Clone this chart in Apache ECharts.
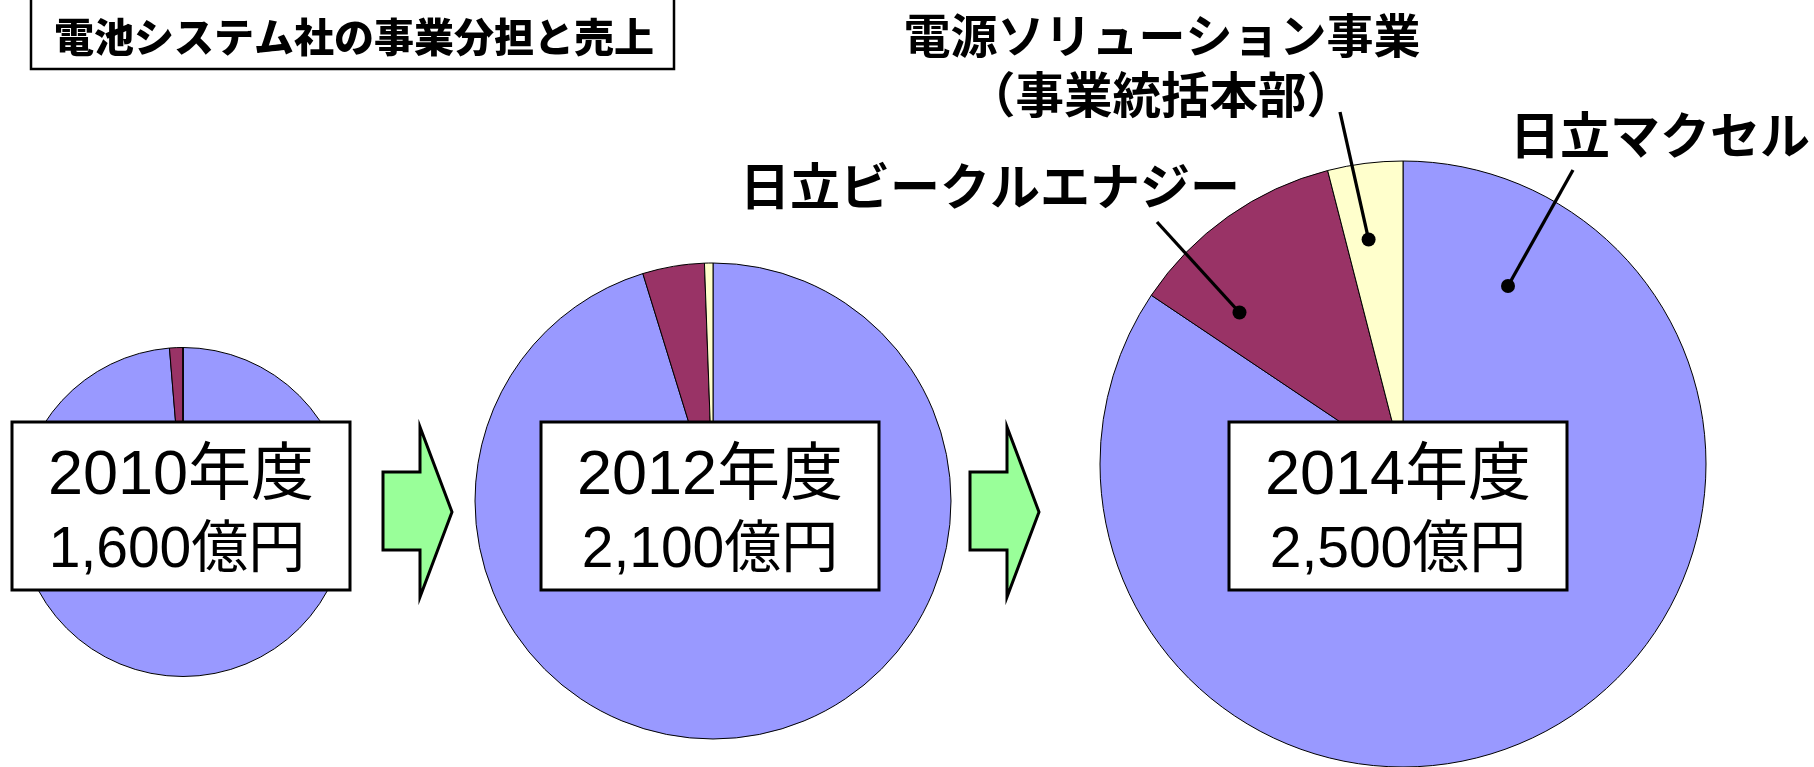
<!DOCTYPE html>
<html>
<head>
<meta charset="utf-8">
<script src="https://cdn.jsdelivr.net/npm/echarts@6/dist/echarts.min.js"></script>
<style>
html,body{margin:0;padding:0;background:#fff;}
#chart{width:1814px;height:767px;}
</style>
</head>
<body>
<div id="chart"></div>
<script>
// ---- data ----
const chartTitle = '電池システム社の事業分担と売上';
const years = ['2010年度', '2012年度', '2014年度'];
const totals = ['1,600億円', '2,100億円', '2,500億円'];
const segments = ['日立マクセル', '日立ビークルエナジー', '電源ソリューション事業（事業統括本部）'];
const maxellSales = [1579, 2000, 2110];
const vehicleSales = [21, 88, 290];
const powerSales = [0, 12, 100];
const segmentLabels = ['日立マクセル', '日立ビークルエナジー', '電源ソリューション事業', '（事業統括本部）'];

// ---- layout ----
const colors = ['#9999FF', '#993366', '#FFFFCC'];
const pieCenters = [[183, 512], [713, 501], [1403, 464]];
const pieRadii = [164.5, 238, 303];
const boxes = [[12, 422], [541, 422], [1229, 422]];
const boxW = 338, boxH = 168;
const FONT = "'Liberation Sans', 'Noto Sans CJK JP', sans-serif";
const JFONT = "'Noto Sans CJK JP', sans-serif";

const series = years.map((y, i) => ({
  type: 'pie',
  name: y,
  center: pieCenters[i],
  radius: pieRadii[i],
  startAngle: 90,
  clockwise: true,
  silent: true,
  animation: false,
  label: { show: false },
  labelLine: { show: false },
  emphasis: { disabled: true },
  itemStyle: { borderColor: '#000', borderWidth: 1 },
  data: [
    { name: segments[0], value: maxellSales[i], itemStyle: { color: colors[0] } },
    { name: segments[1], value: vehicleSales[i], itemStyle: { color: colors[1] } },
    { name: segments[2], value: powerSales[i], itemStyle: { color: colors[2] } }
  ]
}));

const g = [];
// title box
g.push({ type: 'rect', shape: { x: 31, y: -10, width: 643, height: 79 },
  style: { fill: '#fff', stroke: '#000', lineWidth: 2.5 }, z: 100 });
g.push({ type: 'text', x: 354, y: 37, z: 101,
  style: { text: chartTitle, fontSize: 40, fontWeight: 900, fontFamily: JFONT,
    fill: '#000', align: 'center', verticalAlign: 'middle' } });

// year boxes
boxes.forEach((b, i) => {
  g.push({ type: 'rect', shape: { x: b[0], y: b[1], width: boxW, height: boxH },
    style: { fill: '#fff', stroke: '#000', lineWidth: 3 }, z: 100 });
  g.push({ type: 'text', x: b[0] + boxW / 2, y: 477, z: 101,
    style: { text: years[i], fontSize: 63, fontFamily: FONT, fill: '#000',
      align: 'center', verticalAlign: 'middle' } });
  g.push({ type: 'text', x: b[0] + boxW / 2 - (i === 0 ? 4 : 0), y: 551, z: 101,
    style: { text: totals[i], fontSize: 57, fontFamily: FONT, fill: '#000',
      align: 'center', verticalAlign: 'middle' } });
});

// arrows
[0, 587].forEach(off => {
  g.push({ type: 'polygon', z: 100,
    shape: { points: [[383 + off, 472], [420 + off, 472], [420 + off, 427], [452 + off, 512],
      [420 + off, 597], [420 + off, 550], [383 + off, 550]] },
    style: { fill: '#99FF99', stroke: '#000', lineWidth: 3, lineJoin: 'miter' } });
});

// segment labels (2014)
function lbl(text, x, y, size) {
  g.push({ type: 'text', x: x, y: y, z: 101,
    style: { text: text, fontSize: size, fontWeight: 'bold', fontFamily: JFONT, fill: '#000',
      align: 'center', verticalAlign: 'middle' } });
}
lbl(segmentLabels[0], 1660, 135, 50);
lbl(segmentLabels[1], 990, 186, 50);
lbl(segmentLabels[2], 1162, 35, 47);
lbl(segmentLabels[3], 1161, 95, 48.5);

// leader lines with dots
const leaders = [[[1573, 170], [1508, 286]], [[1157, 222], [1239.5, 312.5]], [[1340, 112], [1368.6, 239.5]]];
leaders.forEach(l => {
  g.push({ type: 'line', z: 101, shape: { x1: l[0][0], y1: l[0][1], x2: l[1][0], y2: l[1][1] },
    style: { stroke: '#000', lineWidth: 3.3 } });
  g.push({ type: 'circle', z: 102, shape: { cx: l[1][0], cy: l[1][1], r: 7 },
    style: { fill: '#000' } });
});

const chart = echarts.init(document.getElementById('chart'), null, { renderer: 'canvas' });
chart.setOption({
  backgroundColor: '#fff',
  animation: false,
  tooltip: { show: false },
  series: series,
  graphic: { elements: g }
});
</script>
</body>
</html>
